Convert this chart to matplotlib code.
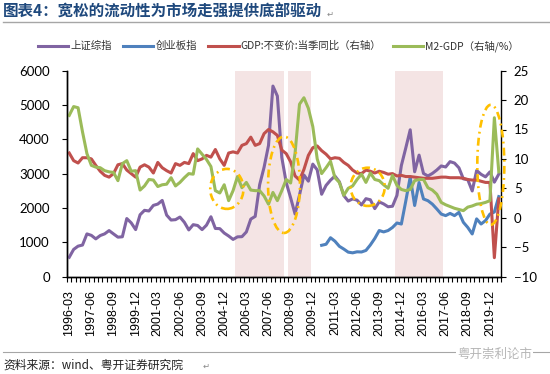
import numpy as np
import matplotlib.pyplot as plt
from matplotlib.patches import Ellipse
from matplotlib.lines import Line2D

plt.rcParams['font.family'] = ['Noto Sans CJK SC', 'DejaVu Sans']

# -----------------------
# 데이터 (季度: 1996-03 ~ 2020-06)
# -----------------------
quarters = [f"{y}-{m}" for y in range(1996, 2021) for m in ("03", "06", "09", "12")][:98]

# 上证综指 (左轴)
sh_index = [560, 790, 885, 917, 1242, 1199, 1097, 1194, 1243, 1339, 1242, 1147,
            1158, 1690, 1564, 1367, 1800, 1929, 1910, 2073, 2112, 2218, 1790, 1646,
            1657, 1733, 1581, 1358, 1511, 1487, 1367, 1497, 1742, 1400, 1396, 1267,
            1181, 1081, 1156, 1161, 1299, 1673, 1753, 2675, 3184, 3821, 5552, 5262,
            3473, 2736, 2293, 1821, 2373, 2959, 2779, 3277, 3109, 2398, 2656, 2808,
            2928, 2762, 2359, 2199, 2263, 2225, 2086, 2269, 2237, 1979, 2175, 2116,
            2033, 2048, 2364, 3235, 3748, 4277, 3053, 3539, 3004, 2930, 3005, 3104,
            3223, 3192, 3349, 3307, 3169, 2847, 2821, 2494, 3091, 2979, 2905, 3050,
            2750, 2985]

# 创业板指 (左轴, 2010-06 起)
cyb_index = [np.nan] * 57 + [
    910, 940, 1130, 1030, 880, 800, 710, 690, 720, 715, 760, 920,
    1110, 1340, 1300, 1340, 1430, 1560, 1530, 2200, 2900, 2070, 2740, 2260,
    2210, 2110, 1970, 1820, 1775, 1840, 1775, 1870, 1580, 1430, 1240, 1680,
    1530, 1630, 1820, 1880, 2330]

# GDP:不变价:当季同比 (右轴)
gdp_yoy = [11.0, 9.7, 9.3, 10.2, 10.2, 10.0, 8.9, 7.9, 7.2, 6.9, 7.5, 9.0,
           9.2, 8.1, 7.5, 6.9, 8.6, 9.0, 8.6, 7.6, 9.4, 8.5, 8.0, 7.6,
           9.2, 8.9, 9.4, 9.2, 10.9, 9.7, 10.0, 10.6, 10.3, 11.6, 10.0, 8.9,
           11.0, 11.2, 11.0, 12.3, 12.6, 13.7, 12.3, 12.6, 14.3, 15.0, 14.6, 14.0,
           11.5, 10.9, 9.5, 7.1, 6.4, 8.2, 10.6, 11.9, 12.2, 11.4, 10.8, 10.0,
           10.2, 10.1, 9.4, 8.9, 8.1, 7.6, 7.5, 8.1, 7.9, 7.6, 7.9, 7.7,
           7.4, 7.5, 7.1, 7.2, 7.0, 7.0, 6.9, 6.8, 6.7, 6.7, 6.7, 6.8,
           6.9, 6.9, 6.8, 6.8, 6.8, 6.7, 6.5, 6.4, 6.4, 6.2, 6.0, 6.0,
           -6.8, 3.2]

# M2-GDP (右轴/%)
m2_gdp = [17.4, 18.9, 18.7, 14.6, 10.9, 8.9, 8.6, 8.5, 8.0, 7.8, 7.7, 6.3,
          9.2, 9.7, 7.9, 8.0, 4.7, 5.4, 6.5, 6.4, 5.3, 5.6, 5.7, 6.8,
          5.4, 6.0, 6.8, 7.5, 7.4, 11.7, 10.8, 9.9, 8.7, 4.6, 4.2, 5.6,
          2.9, 4.6, 7.0, 5.1, 6.0, 4.7, 4.6, 4.6, 3.7, 2.3, 4.3, 2.9,
          4.6, 6.5, 5.9, 11.0, 19.3, 20.4, 18.6, 15.5, 10.0, 7.5, 8.5, 9.6,
          6.8, 6.0, 3.8, 5.0, 5.4, 6.5, 7.4, 6.0, 7.6, 6.5, 6.3, 5.6,
          5.0, 7.2, 5.5, 4.8, 4.6, 4.8, 6.3, 6.5, 6.5, 5.1, 4.7, 4.0,
          2.6, 2.2, 1.9, 1.6, 1.4, 1.2, 1.8, 2.0, 2.3, 2.4, 2.6, 2.9,
          17.0, 7.8]

# 阴影区间 (起始季度, 结束季度)
shade_start = ["2005-09", "2008-09", "2014-09"]
shade_end = ["2008-03", "2009-09", "2017-03"]

# 橙色标注圈: 中心(季度序号, 右轴值), 宽(季度数), 高(右轴单位)
circle_x = [35.6, 48.5, 67.4, 95.2]
circle_y = [4.9, 5.6, 5.25, 9.0]
circle_w = [7.5, 7.2, 7.7, 6.1]
circle_h = [6.8, 16.4, 6.5, 20.4]

c_sh, c_cyb, c_gdp, c_m2 = '#8064A2', '#4F81BD', '#C0504D', '#9BBB59'

x = np.arange(len(quarters))

# -----------------------
# plot
# -----------------------
fig = plt.figure(figsize=(5.5, 3.74), dpi=100)
ax = fig.add_axes([67 / 550, 1 - 276.5 / 374, 434 / 550, 205.8 / 374])
ax2 = ax.twinx()

for s, e in zip(shade_start, shade_end):
    ax.axvspan(quarters.index(s) - 0.5, quarters.index(e) + 0.5,
               color='#F4E4E4', lw=0, zorder=0)

ax.plot(x, sh_index, color=c_sh, lw=2.2, zorder=3)
ax.plot(x, cyb_index, color=c_cyb, lw=2.2, zorder=3)
ax2.plot(x, gdp_yoy, color=c_gdp, lw=2.2)
ax2.plot(x, m2_gdp, color=c_m2, lw=2.2)

for cx, cy, w, h in zip(circle_x, circle_y, circle_w, circle_h):
    ax2.add_patch(Ellipse((cx, cy), w, h, fill=False, ec='#FFC000', lw=1.9,
                          ls=(0, (3.0, 1.6, 0.7, 1.6)), clip_on=False, zorder=5))

ax.set_xlim(-0.5, len(quarters) - 0.5)
ax.set_ylim(0, 6000)
ax2.set_ylim(-10, 25)
ax.set_yticks(range(0, 6001, 1000))
ax2.set_yticks(range(-10, 26, 5))

ax.set_xticks(x[::5])
ax.set_xticklabels(quarters[::5], rotation=90, family='Liberation Sans', fontsize=9)
ax.set_xticks(np.arange(-0.5, len(quarters), 1), minor=True)
ax.tick_params(axis='x', which='major', length=0, pad=10)
ax.tick_params(axis='x', which='minor', length=3.3, width=0.8, direction='out')
ax.tick_params(axis='y', length=3.3, width=0.8, pad=9)
ax2.tick_params(axis='y', length=3.3, width=0.8, pad=6)
for lab in ax.get_yticklabels() + ax2.get_yticklabels():
    lab.set_family('Lato')
    lab.set_fontsize(9.5)

for a in (ax, ax2):
    a.spines['top'].set_visible(False)
    for sp in a.spines.values():
        sp.set_color('black')
        sp.set_linewidth(1.0)
ax.spines['right'].set_visible(False)

# legend
handles = [Line2D([], [], color=c, lw=2.2) for c in (c_sh, c_cyb, c_gdp, c_m2)]
labels = ['上证综指', '创业板指', 'GDP:不变价:当季同比（右轴）', 'M2-GDP（右轴/%）']
fig.legend(handles, labels, loc='center', bbox_to_anchor=(0.506, 1 - 46 / 374),
           ncol=4, frameon=False, fontsize=7.5, handlelength=2.9,
           handletextpad=0.2, columnspacing=1.1, labelcolor='#333333')

# 标题 / 来源
fig.text(0.006, 1 - 12 / 374, '图表4：宽松的流动性为市场走强提供底部驱动',
         fontsize=11.2, fontweight='bold', color='#1F497D', va='center')
fig.text(327 / 550, 1 - 14 / 374, '↵', fontsize=6, color='#888888', va='center',
         family='DejaVu Sans')
fig.add_artist(Line2D([0.005, 1.0], [1 - 22 / 374] * 2, color='#A6A6A6', lw=1.0))
fig.add_artist(Line2D([0.005, 1.0], [1 - 352 / 374] * 2, color='#A6A6A6', lw=0.8))
fig.text(0.006, 1 - 365 / 374, '资料来源：wind、粤开证券研究院', fontsize=8.5,
         color='#222222', va='center', style='italic')
fig.text(203 / 550, 1 - 366 / 374, '↵', fontsize=6, color='#888888', va='center',
         family='DejaVu Sans')
fig.text(457 / 550, 1 - 354 / 374, '粤开崇利论市', fontsize=9, color='#B5B5B5',
         va='center', bbox=dict(fc='white', ec='none', pad=0.5))

fig.savefig('out.png', dpi=100)
